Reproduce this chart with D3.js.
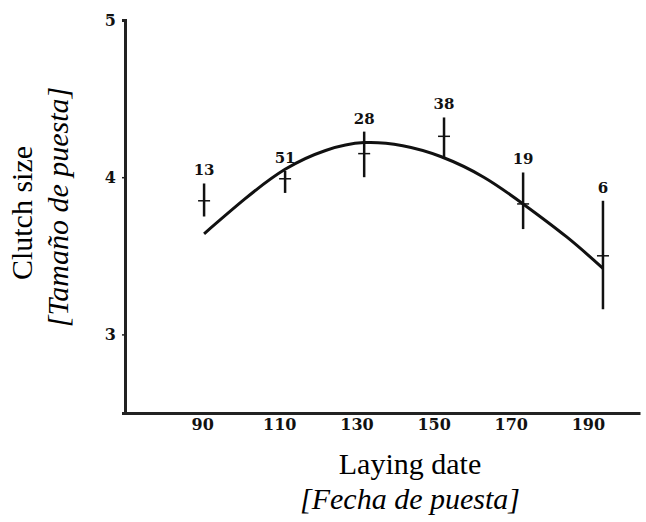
<!DOCTYPE html>
<html lang="en">
<head>
  <meta charset="utf-8">
  <title>Clutch size vs laying date</title>
  <script type="text/javascript" src="https://cdn.jsdelivr.net/npm/d3@7/dist/d3.min.js"></script>
  <style>
    body { margin: 0; background: #fff; }
    svg { display: block; }
  </style>
</head>
<body>
  <div id="chart"></div>
  <script>
    // data
    let xTicks = [90, 110, 130, 150, 170, 190];
    let yTicks = [3, 4, 5];
    let dates = [90.5, 111.5, 132, 152.7, 173.2, 193.9];
    let means = [3.85, 3.99, 4.15, 4.26, 3.83, 3.50];
    let lows = [3.75, 3.90, 4.00, 4.12, 3.67, 3.16];
    let highs = [3.96, 4.04, 4.29, 4.38, 4.03, 3.85];
    let counts = ["13", "51", "28", "38", "19", "6"];
    // fitted curve
    let curveX = [90.5, 101, 111.5, 122, 132, 142, 152, 163, 173.2, 184.5, 193.9];
    let curveY = [3.64, 3.86, 4.05, 4.17, 4.22, 4.20, 4.13, 4.00, 3.83, 3.62, 3.42];

    let w = 646;
    let h = 522;

    let x = d3.scaleLinear().domain([70, 203.5]).range([125, 640]);
    let y = d3.scaleLinear().domain([2.5, 5]).range([413, 20]);

    let svg = d3.select("#chart")
      .append("svg")
      .attr("width", w)
      .attr("height", h);

    svg.append("rect").attr("width", w).attr("height", h).attr("fill", "#fff");

    let yAxis = svg.append("g")
      .attr("transform", "translate(" + x(70) + ",0)")
      .call(d3.axisLeft(y).tickValues(yTicks).tickSize(3).tickPadding(6).tickFormat(d3.format("d")));

    let xAxis = svg.append("g")
      .attr("transform", "translate(0," + y(2.5) + ")")
      .call(d3.axisBottom(x).tickValues(xTicks).tickSize(0).tickPadding(6).tickFormat(d3.format("d")));

    [yAxis, xAxis].forEach(function(g) {
      g.select(".domain").attr("stroke", "#222").attr("stroke-width", 3);
      g.selectAll(".tick line").attr("stroke", "#222").attr("stroke-width", 1.5);
      g.selectAll(".tick text")
        .attr("fill", "#111")
        .style("font-family", "'DejaVu Serif', serif")
        .style("font-weight", "bold")
        .style("font-size", "16px");
    });

    // fitted curve
    let line = d3.line()
      .x(function(d) { return x(d[0]); })
      .y(function(d) { return y(d[1]); })
      .curve(d3.curveNatural);

    svg.append("path")
      .datum(d3.zip(curveX, curveY))
      .attr("d", line)
      .attr("fill", "none")
      .attr("stroke", "#111")
      .attr("stroke-width", 3);

    let pts = svg.selectAll("g.pt")
      .data(d3.range(dates.length))
      .enter()
      .append("g")
      .attr("class", "pt");

    pts.append("line")
      .attr("x1", function(i) { return x(dates[i]); })
      .attr("x2", function(i) { return x(dates[i]); })
      .attr("y1", function(i) { return y(lows[i]); })
      .attr("y2", function(i) { return y(highs[i]); })
      .attr("stroke", "#111")
      .attr("stroke-width", 2.5);

    pts.append("line")
      .attr("x1", function(i) { return x(dates[i]) - 6; })
      .attr("x2", function(i) { return x(dates[i]) + 6; })
      .attr("y1", function(i) { return y(means[i]); })
      .attr("y2", function(i) { return y(means[i]); })
      .attr("stroke", "#111")
      .attr("stroke-width", 1.5);

    pts.append("text")
      .attr("x", function(i) { return x(dates[i]); })
      .attr("y", function(i) { return y(highs[i]) - 8; })
      .attr("text-anchor", "middle")
      .attr("fill", "#111")
      .style("font-family", "'DejaVu Serif', serif")
      .style("font-weight", "bold")
      .style("font-size", "15px")
      .text(function(i) { return counts[i]; });

    // axis titles
    let serif = "'Liberation Serif', 'Times New Roman', serif";
    svg.append("text")
      .attr("x", 410).attr("y", 474)
      .attr("text-anchor", "middle")
      .style("font-family", serif).style("font-size", "30px")
      .text("Laying date");
    svg.append("text")
      .attr("x", 410).attr("y", 509)
      .attr("text-anchor", "middle")
      .style("font-family", serif).style("font-size", "30px").style("font-style", "italic")
      .text("[Fecha de puesta]");
    svg.append("text")
      .attr("transform", "translate(32,213) rotate(-90)")
      .attr("text-anchor", "middle")
      .style("font-family", serif).style("font-size", "30px")
      .text("Clutch size");
    svg.append("text")
      .attr("transform", "translate(68,207) rotate(-90)")
      .attr("text-anchor", "middle")
      .style("font-family", serif).style("font-size", "30px").style("font-style", "italic")
      .text("[Tamaño de puesta]");
  </script>
</body>
</html>
